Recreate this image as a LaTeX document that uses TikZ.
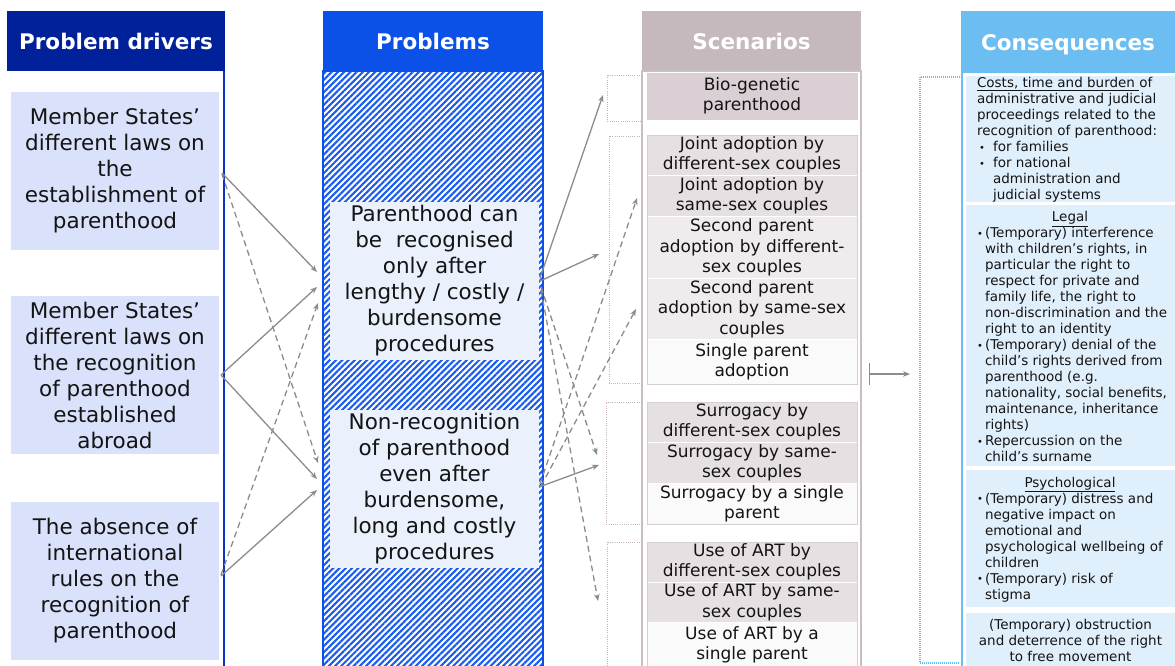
\documentclass[tikz,border=0pt]{standalone}
\usepackage{fontspec}
\setmainfont{DejaVu Sans}
\usetikzlibrary{arrows.meta,patterns.meta,calc}

% palette
\definecolor{drvhead}{HTML}{00219A}
\definecolor{drvline}{HTML}{0B30C4}
\definecolor{drvfill}{HTML}{D9E1FB}
\definecolor{probhead}{HTML}{0B51E8}
\definecolor{probhatch}{HTML}{1A5CF0}
\definecolor{probfill}{HTML}{EAF0FC}
\definecolor{scenhead}{HTML}{C5B9BE}
\definecolor{scenline}{HTML}{C9BEC2}
\definecolor{scenbio}{HTML}{D9CFD4}
\definecolor{scendark}{HTML}{E6E0E3}
\definecolor{scenmid}{HTML}{F0ECEE}
\definecolor{scenlight}{HTML}{FBFAFB}
\definecolor{scenframe}{HTML}{D6CED1}
\definecolor{bracketmauve}{HTML}{C4B3B8}
\definecolor{conshead}{HTML}{6CBEF2}
\definecolor{consfill}{HTML}{E0EFFC}
\definecolor{linkgrey}{HTML}{8C8C8C}
\definecolor{inkblack}{HTML}{141414}

% bullet helpers for the consequence lists
\newcommand{\smallbullet}{\raisebox{0.5pt}{\fontsize{10}{10}\selectfont\textbullet}}
\newcommand{\cbul}{\makebox[8pt][l]{\smallbullet}}
\newcommand{\cind}{\makebox[8pt]{}}
\newcommand{\wbul}{\makebox[16pt][l]{\hspace{2pt}\smallbullet}}
\newcommand{\wind}{\makebox[16pt]{}}

\begin{document}
\begin{tikzpicture}[x=1pt,y=-1pt,
  every node/.style={inner sep=0pt,outer sep=0pt,text=inkblack},
  headbox/.style={anchor=north west,text=white,align=center,
    font=\fontsize{21.5}{26}\selectfont\bfseries},
  drvbox/.style={anchor=north west,fill=drvfill,minimum width=208pt,
    minimum height=158pt,align=center,font=\fontsize{21.5}{26}\selectfont},
  probbox/.style={anchor=north west,fill=probfill,minimum width=209pt,
    minimum height=158pt,align=center,font=\fontsize{21.5}{26}\selectfont},
  scenrow/.style={anchor=north west,minimum width=210pt,align=center,
    font=\fontsize{17}{20.5}\selectfont},
  consbox/.style={anchor=north west,fill=consfill,minimum width=209pt},
  constext/.style={anchor=west,align=left,font=\fontsize{13.5}{16}\selectfont},
  link/.style={draw=linkgrey,line width=1.3pt,-{Stealth[length=7pt,width=5.5pt]}},
  dashlink/.style={link,dash pattern=on 6pt off 4pt},
  scenbracket/.style={draw=bracketmauve,line width=1pt,dash pattern=on 1pt off 1.2pt},
  consbracket/.style={draw=conshead,line width=1.3pt,dash pattern=on 1pt off 1pt},
]
\useasboundingbox (0,0) rectangle (1175,665);
\fill[white] (0,0) rectangle (1175,665);

% ---------- Problem drivers ----------
\node[headbox,fill=drvhead,minimum width=218pt,minimum height=60pt] (hdrv) at (7,11) {Problem drivers};
\draw[drvline,line width=2pt] ($(hdrv.south east)+(-1,0)$) -- ($(hdrv.south east)+(-1,604)$);
\node[drvbox] (d1) at (11,92) {Member States’\\different laws on\\the\\establishment of\\parenthood};
\node[drvbox] (d2) at (11,296) {Member States’\\different laws on\\the recognition\\of parenthood\\established\\abroad};
\node[drvbox] (d3) at (11,502) {The absence of\\international\\rules on the\\recognition of\\parenthood};

% ---------- Problems ----------
\node[headbox,fill=probhead,minimum width=220pt,minimum height=60pt] (hprob) at (323,11) {Problems};
\node[anchor=north west,minimum width=220pt,minimum height=604pt,
  pattern={Lines[angle=45,distance=4.4pt,line width=2.1pt]},pattern color=probhatch,
  draw=probhead,line width=2pt] (probbody) at (323,71) {};
\node[probbox] (pA) at (330,202) {Parenthood can\\be\ \ recognised\\only after\\lengthy / costly /\\burdensome\\procedures};
\node[probbox] (pB) at (330,410) {Non-recognition\\of parenthood\\even after\\burdensome,\\long and costly\\procedures};

% ---------- Scenarios ----------
\node[headbox,fill=scenhead,minimum width=219pt,minimum height=60pt] (hscen) at (642,11) {Scenarios};
\node[anchor=north west,draw=scenline,line width=2pt,minimum width=219pt,minimum height=604pt] (scenbody) at (642,71) {};

\node[scenrow,fill=scenbio,minimum height=46pt] (s0) at (647,73) {Bio-genetic\\parenthood};
\draw[scenframe,line width=1pt] (s0.north west) rectangle (s0.south east);

\node[scenrow,fill=scendark,minimum height=40pt] (s1) at (647,135) {Joint adoption by\\different-sex couples};
\node[scenrow,fill=scendark,minimum height=40pt] (s2) at (647,176) {Joint adoption by\\same-sex couples};
\node[scenrow,fill=scenmid,minimum height=61pt] (s3) at (647,217) {Second parent\\adoption by different-\\sex couples};
\node[scenrow,fill=scenmid,minimum height=60pt] (s4) at (647,279) {Second parent\\adoption by same-sex\\couples};
\node[scenrow,fill=scenlight,minimum height=44pt] (s5) at (647,340) {Single parent\\adoption};
\draw[scenframe,line width=1pt] (s1.north west) rectangle (s5.south east);

\node[scenrow,fill=scendark,minimum height=40pt] (s6) at (647,402) {Surrogacy by\\different-sex couples};
\node[scenrow,fill=scendark,minimum height=40pt] (s7) at (647,443) {Surrogacy by same-\\sex couples};
\node[scenrow,fill=scenlight,minimum height=40pt] (s8) at (647,484) {Surrogacy by a single\\parent};
\draw[scenframe,line width=1pt] (s6.north west) rectangle (s8.south east);

\node[scenrow,fill=scendark,minimum height=40pt] (s9) at (647,542) {Use of ART by\\different-sex couples};
\node[scenrow,fill=scendark,minimum height=39pt] (s10) at (647,583) {Use of ART by same-\\sex couples};
\node[scenrow,fill=scenlight,minimum height=44pt] (s11) at (647,623) {Use of ART by a\\single parent};
\draw[scenframe,line width=1pt] (s9.north west) rectangle (s11.south east);

% dotted group brackets
\draw[scenbracket] (642,75) -- (607,75) -- (607,121) -- (642,121);
\draw[scenbracket] (642,136) -- (609,136) -- (609,383) -- (642,383);
\draw[scenbracket] (642,402) -- (606,402) -- (606,524) -- (642,524);
\draw[scenbracket] (642,542) -- (607,542) -- (607,670);

% ---------- Consequences ----------
\node[headbox,fill=conshead,minimum width=214pt,minimum height=62pt] (hcons) at (961,11) {\raisebox{-8.5pt}[0pt][0pt]{Consequences}};
\draw[conshead,line width=2pt] ($(hcons.south west)+(1,0)$) -- ($(hcons.south west)+(1,600)$);

\node[consbox,minimum height=126pt] (c1) at (966,76) {};
\node[constext] (c1t) at ($(c1.west)+(11,1)$) {\underline{Costs, time and burden\ }of\\
administrative and judicial\\
proceedings related to the\\
recognition of parenthood:\\
\wbul for families\\
\wbul for national\\
\wind administration and\\
\wind judicial systems};

\node[consbox,minimum height=261pt] (c2) at (966,205) {};
\node[constext] (c2t) at ($(c2.west)+(11,1)$) {\makebox[186pt]{\underline{Legal}}\\
\cbul(Temporary) interference\\
\cind with children’s rights, in\\
\cind particular the right to\\
\cind respect for private and\\
\cind family life, the right to\\
\cind non-discrimination and the\\
\cind right to an identity\\
\cbul(Temporary) denial of the\\
\cind child’s rights derived from\\
\cind parenthood (e.g.\\
\cind nationality, social benefits,\\
\cind maintenance, inheritance\\
\cind rights)\\
\cbul Repercussion on the\\
\cind child’s surname};

\node[consbox,minimum height=137pt] (c3) at (966,470) {};
\node[constext] (c3t) at ($(c3.west)+(11,1)$) {\makebox[186pt]{\underline{Psychological}}\\
\cbul(Temporary) distress and\\
\cind negative impact on\\
\cind emotional and\\
\cind psychological wellbeing of\\
\cind children\\
\cbul(Temporary) risk of\\
\cind stigma};

\node[consbox,minimum height=54pt] (c4) at (966,613) {};
\node[constext,anchor=center,align=center] (c4t) at (c4.center) {(Temporary) obstruction\\and deterrence of the right\\to free movement};

\draw[consbracket] (960,77) -- (920,77) -- (920,663) -- (960,663);

% ---------- links: drivers -> problems ----------
\coordinate (t1) at ($(pA.west)+(-13,-9)$);
\coordinate (t2) at ($(pA.west)+(-13,6)$);
\coordinate (t3) at ($(pA.west)+(-12,22)$);
\coordinate (t4) at ($(pB.west)+(-12,-26)$);
\coordinate (t5) at ($(pB.west)+(-13,-10)$);
\coordinate (t6) at ($(pB.west)+(-13,1)$);

\draw[link] ($(d1.east)+(3,2)$) -- (t1);
\draw[dashlink] ($(d1.east)+(3,3)$) -- (t4);
\draw[link] ($(d2.east)+(2,0)$) -- (t2);
\draw[link] ($(d2.east)+(2,0)$) -- (t5);
\draw[link] ($(d3.east)+(2,-5)$) -- (t6);
\draw[dashlink] ($(d3.east)+(2,-6)$) -- (t3);

% ---------- links: problems -> scenarios ----------
\coordinate (u1) at (603,95);
\coordinate (u2) at (599,254);
\coordinate (u3) at (597,455);
\coordinate (u4) at (598,601);
\coordinate (u5) at (637,198);
\coordinate (u6) at (636,309);
\coordinate (u7) at (599,465);

\draw[link] ($(pA.east)+(1,-3)$) -- (u1);
\draw[link] ($(pA.east)+(1,0)$) -- (u2);
\draw[dashlink] ($(pA.east)+(2,6)$) -- (u3);
\draw[dashlink] ($(pA.east)+(2,9)$) -- (u4);
\draw[dashlink] ($(pB.east)+(1,-5)$) -- (u5);
\draw[dashlink] ($(pB.east)+(2,-3)$) -- (u6);
\draw[link] ($(pB.east)+(0,-2)$) -- (u7);

% ---------- scenarios -> consequences ----------
\coordinate (barfrom) at ($(scenbody.east)+(8,1)$);
\coordinate (barto) at ($(scenbody.east)+(49,1)$);
\draw[draw=linkgrey,line width=1.3pt,{Bar[width=22pt]}-{Stealth[length=7pt,width=5.5pt]}] (barfrom) -- (barto);

\end{tikzpicture}
\end{document}
